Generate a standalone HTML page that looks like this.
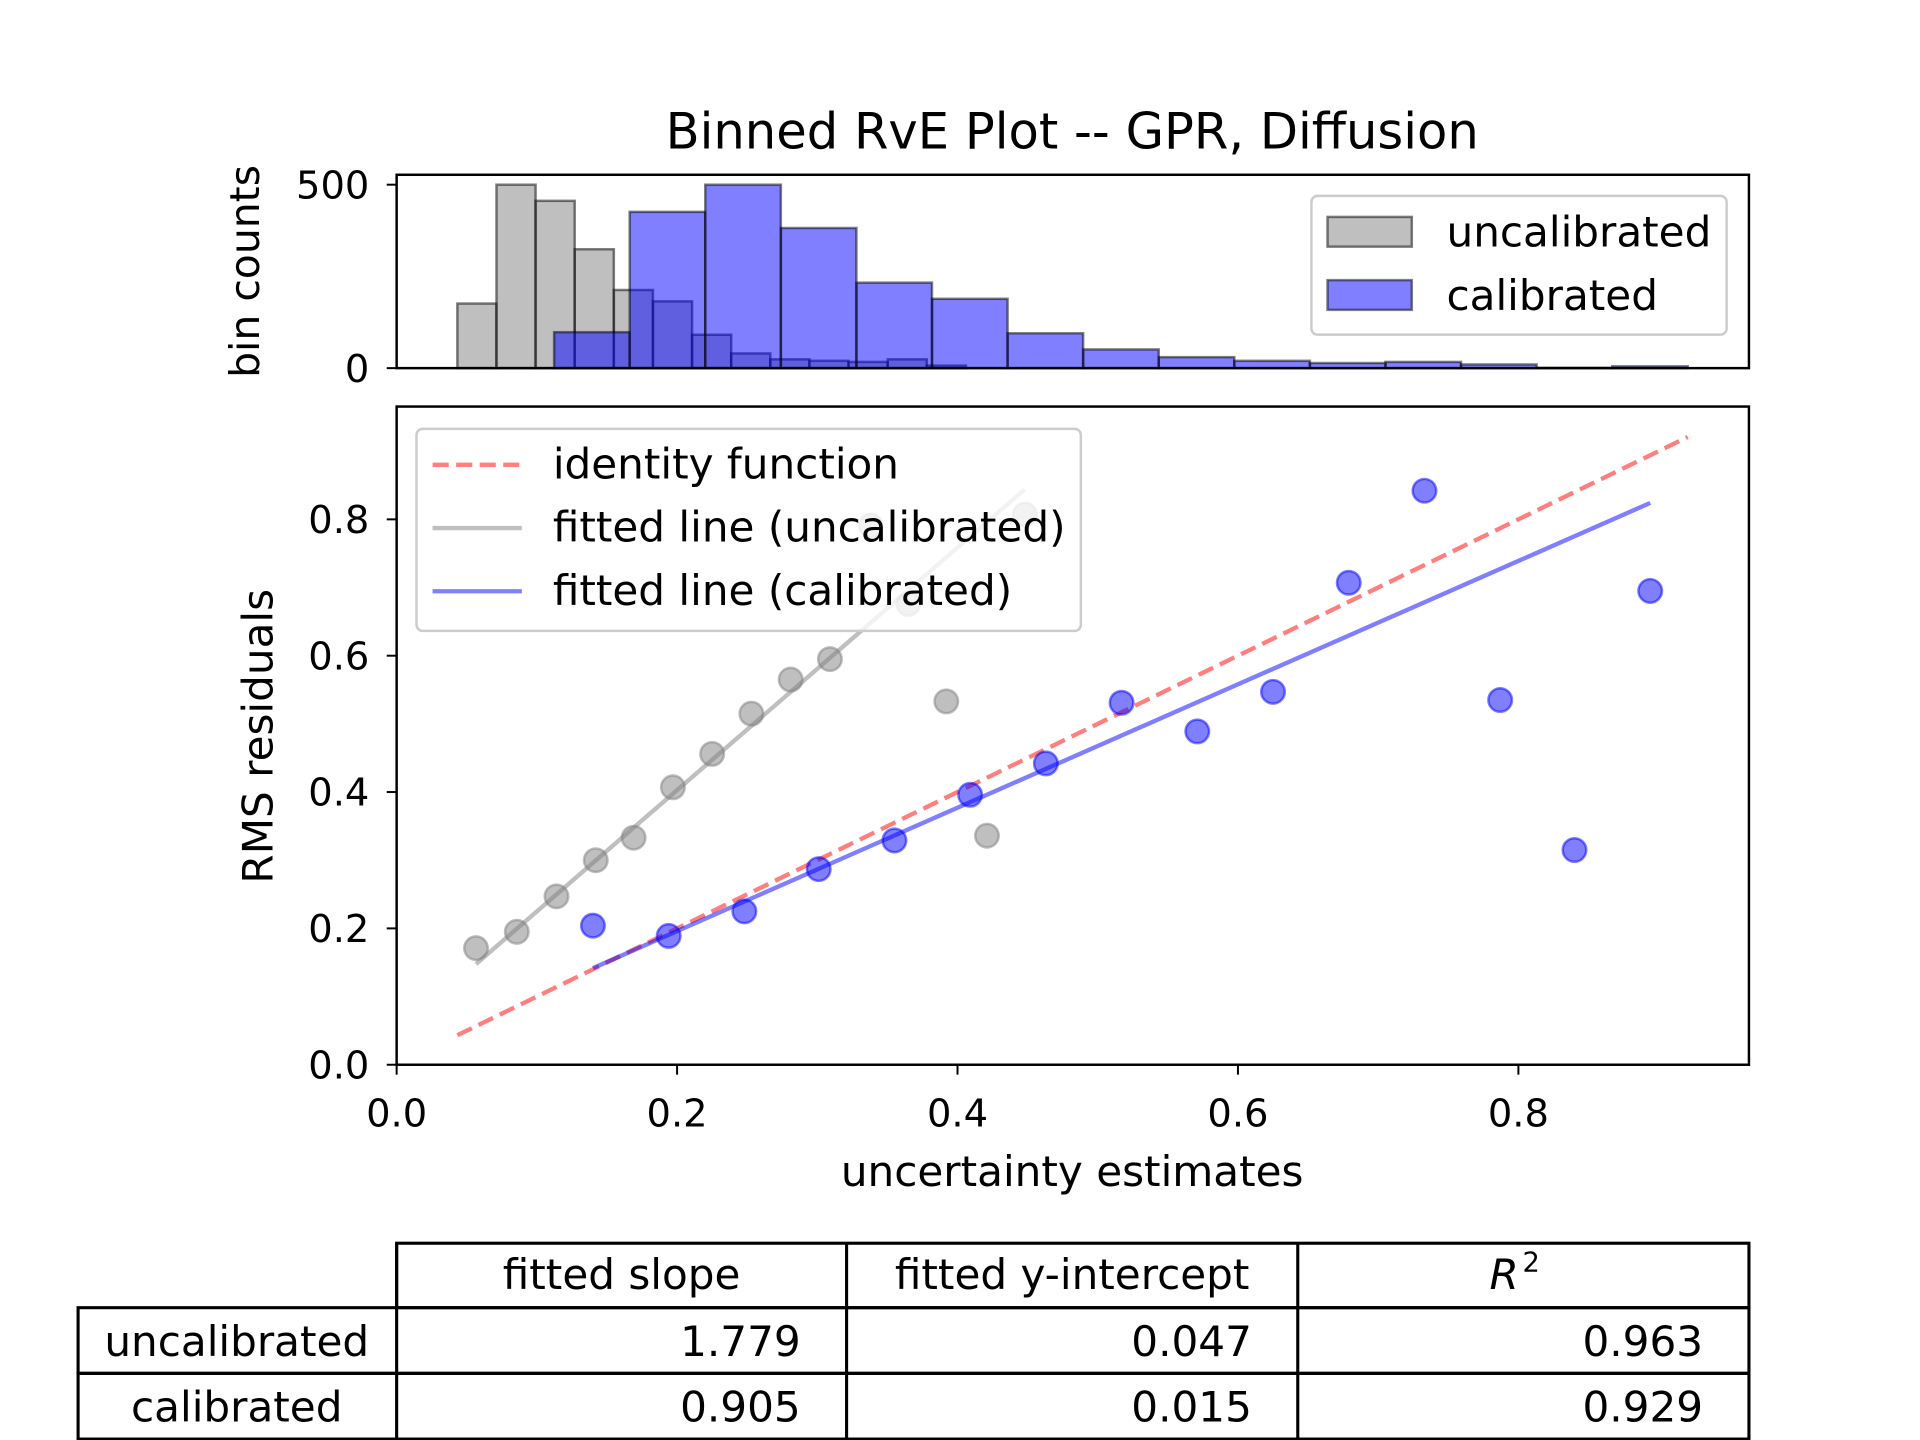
<!DOCTYPE html>
<html><head><meta charset="utf-8"><style>
html,body{margin:0;padding:0;background:#fff;}
svg{display:block;font-family:"DejaVu Sans","Liberation Sans",sans-serif;}
</style></head><body>
<svg id="chart" width="1920" height="1440" viewBox="0 0 1549 1161.75" preserveAspectRatio="none" xmlns="http://www.w3.org/2000/svg">
<rect width="1549" height="1162" fill="#fff"/>
<text x="865" y="120" font-size="40" text-anchor="middle">Binned RvE Plot -- GPR, Diffusion</text>
<g id="hist"></g>
<g id="main"></g>
<g id="table"></g>
</svg>
<script>
const NS="http://www.w3.org/2000/svg";
// histogram data
const uncalStart=0.0433, uncalWidth=0.0279;
const uncalCounts=[176,500,456,324,213,182,91,40,24,20,17,24,7];
const calStart=0.1123, calWidth=0.0539;
const calCounts=[98,426,500,382,233,189,95,51,30,20,14,17,10,1,5];
const histTicks=[0,500];
// scatter data
const uncalX=[0.0566,0.0857,0.114,0.142,0.169,0.197,0.225,0.253,0.281,0.309,0.338,0.365,0.392,0.421,0.448];
const uncalY=[0.171,0.195,0.247,0.300,0.333,0.407,0.456,0.515,0.565,0.595,0.791,0.676,0.533,0.336,0.807];
const calX=[0.140,0.194,0.248,0.301,0.355,0.409,0.463,0.517,0.571,0.625,0.679,0.733,0.787,0.840,0.894];
const calY=[0.204,0.189,0.225,0.287,0.329,0.396,0.442,0.531,0.489,0.547,0.707,0.842,0.535,0.315,0.695];
const fitSlope=[1.779,0.905];
const fitIntercept=[0.047,0.015];
const fitR2=[0.963,0.929];
const xTicks=[0,0.2,0.4,0.6,0.8];
const yTicks=[0,0.2,0.4,0.6,0.8];
const rowLabels=["uncalibrated","calibrated"];

const X=v=>320+v*1131.25;
const Y=v=>859-v*550;
const HY=v=>297-v*148/500;

function el(tag,attrs,parent,text){const e=document.createElementNS(NS,tag);for(const k in attrs)e.setAttribute(k,attrs[k]);if(text!==undefined)e.textContent=text;parent.appendChild(e);return e;}

const hist=document.getElementById('hist');
function drawBars(start,w,counts,fill,name){
  counts.forEach((c,i)=>{
    const x0=X(start+i*w),x1=X(start+(i+1)*w);
    const r=el('rect',{x:x0,y:HY(c),width:x1-x0,height:HY(0)-HY(c),fill:fill,'fill-opacity':0.5,stroke:'#000','stroke-opacity':0.5,'stroke-width':2},hist);
    
    
  });
}
drawBars(uncalStart,uncalWidth,uncalCounts,'#808080','uncalibrated');
drawBars(calStart,calWidth,calCounts,'#0000ff','calibrated');
el('rect',{x:320,y:141,width:1091,height:156,fill:'none',stroke:'#000','stroke-width':2},hist);
histTicks.forEach(t=>{
  el('line',{x1:312,x2:320,y1:HY(t),y2:HY(t),stroke:'#000','stroke-width':1.6},hist);
  const tx=el('text',{x:298,y:HY(t)+11,'font-size':31,'text-anchor':'end'},hist,String(t));
  
  
});
const hyl=el('text',{x:0,y:0,'font-size':33,'text-anchor':'middle',transform:'translate(209,219) rotate(-90)'},hist,'bin counts');


// hist legend
const hl=el('g',{},hist);


el('rect',{x:1058,y:158,width:335,height:112,rx:5,fill:'#fff','fill-opacity':0.8,stroke:'#ccc','stroke-width':2},hl);
el('rect',{x:1071,y:175,width:68,height:24,fill:'#808080','fill-opacity':0.5,stroke:'#000','stroke-opacity':0.5,'stroke-width':2},hl);
el('text',{x:1167,y:199,'font-size':34},hl,'uncalibrated');
el('rect',{x:1071,y:226,width:68,height:24,fill:'#0000ff','fill-opacity':0.5,stroke:'#000','stroke-opacity':0.5,'stroke-width':2},hl);
el('text',{x:1167,y:250,'font-size':34},hl,'calibrated');

// main
const main=document.getElementById('main');
const idMin=uncalStart, idMax=calStart+calCounts.length*calWidth;
const idl=el('line',{x1:X(idMin),y1:Y(idMin),x2:X(idMax),y2:Y(idMax),stroke:'#ff0000','stroke-opacity':0.5,'stroke-width':3.5,'stroke-dasharray':'13,6'},main);


function fitLine(xs,i,color,name){
  const a=Math.min(...xs),b=Math.max(...xs);
  const l=el('line',{x1:X(a),y1:Y(fitSlope[i]*a+fitIntercept[i]),x2:X(b),y2:Y(fitSlope[i]*b+fitIntercept[i]),stroke:color,'stroke-opacity':0.5,'stroke-width':3.5},main);
  
  
}
fitLine(uncalX,0,'#808080','fitted-line-uncalibrated');
fitLine(calX,1,'#0000ff','fitted-line-calibrated');
function pts(xs,ys,color,name){
  xs.forEach((x,i)=>{
    const c=el('circle',{cx:X(x),cy:Y(ys[i]),r:9.5,fill:color,'fill-opacity':0.5,stroke:color,'stroke-opacity':0.5,'stroke-width':2},main);
    
    
  });
}
pts(uncalX,uncalY,'#808080','uncalibrated');
pts(calX,calY,'#0000ff','calibrated');
el('rect',{x:320,y:328,width:1091,height:531,fill:'none',stroke:'#000','stroke-width':2},main);
xTicks.forEach(t=>{
  el('line',{x1:X(t),x2:X(t),y1:859,y2:867,stroke:'#000','stroke-width':1.6},main);
  const tx=el('text',{x:X(t),y:909,'font-size':31,'text-anchor':'middle'},main,t.toFixed(1));
  
  
});
yTicks.forEach(t=>{
  el('line',{x1:312,x2:320,y1:Y(t),y2:Y(t),stroke:'#000','stroke-width':1.6},main);
  const tx=el('text',{x:298,y:Y(t)+11,'font-size':31,'text-anchor':'end'},main,t.toFixed(1));
  
  
});
const xl=el('text',{x:865,y:957,'font-size':34,'text-anchor':'middle'},main,'uncertainty estimates');


const yl=el('text',{x:0,y:0,'font-size':34,'text-anchor':'middle',transform:'translate(220,594) rotate(-90)'},main,'RMS residuals');


const ml=el('g',{},main);


el('rect',{x:336,y:346,width:536,height:163,rx:5,fill:'#fff','fill-opacity':0.8,stroke:'#ccc','stroke-width':2},ml);
el('line',{x1:349,x2:421,y1:375,y2:375,stroke:'#ff0000','stroke-opacity':0.5,'stroke-width':3.5,'stroke-dasharray':'13,6'},ml);
el('text',{x:446,y:386,'font-size':34},ml,'identity function');
el('line',{x1:349,x2:421,y1:426,y2:426,stroke:'#808080','stroke-opacity':0.5,'stroke-width':3.5},ml);
el('text',{x:446,y:437,'font-size':34},ml,'fitted line (uncalibrated)');
el('line',{x1:349,x2:421,y1:477,y2:477,stroke:'#0000ff','stroke-opacity':0.5,'stroke-width':3.5},ml);
el('text',{x:446,y:488,'font-size':34},ml,'fitted line (calibrated)');

// table
const tb=document.getElementById('table');
const cols=[63,320,683,1047,1411], rows=[1003,1055,1108,1161];
el('rect',{x:320,y:1003,width:1091,height:52,fill:'none',stroke:'#000','stroke-width':2.5},tb);
[1,2].forEach(r=>el('rect',{x:63,y:rows[r],width:1348,height:rows[r+1]-rows[r],fill:'none',stroke:'#000','stroke-width':2.5},tb));
[1,2,3].forEach(c=>el('line',{x1:cols[c],x2:cols[c],y1:1003,y2:1161,stroke:'#000','stroke-width':2.5},tb));
el('line',{x1:63,x2:1411,y1:1108,y2:1108,stroke:'#000','stroke-width':2.5},tb);
const hdr=[ 'fitted slope','fitted y-intercept'];
hdr.forEach((h,i)=>{const t=el('text',{x:(cols[i+1]+cols[i+2])/2,y:1040,'font-size':34,'text-anchor':'middle'},tb,h);});
const r2=el('text',{x:1222,y:1040,'font-size':34,'text-anchor':'middle','font-style':'italic'},tb,'R');
el('tspan',{'font-size':22,'font-style':'normal',dy:-14,dx:3},r2,'2');


rowLabels.forEach((lab,i)=>{
  const y=rows[i+1]+39;
  const t=el('text',{x:191,y:y,'font-size':34,'text-anchor':'middle'},tb,lab);
  
  
  [fitSlope[i],fitIntercept[i],fitR2[i]].forEach((v,j)=>{
    const c=el('text',{x:cols[j+2]-37,y:y,'font-size':34,'text-anchor':'end'},tb,v.toFixed(3));
    
    
  });
});
</script>
</body></html>
